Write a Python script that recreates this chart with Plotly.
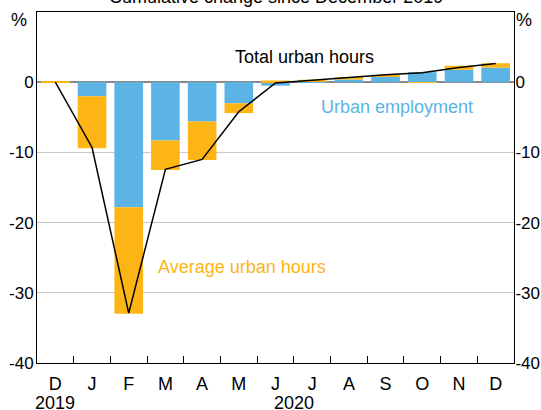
import plotly.graph_objects as go

months = ["D", "J", "F", "M", "A", "M", "J", "J", "A", "S", "O", "N", "D"]
years = ["2019", "2020"]
urban_employment = [0.0, -2.0, -17.8, -8.3, -5.6, -3.0, -0.5, 0.1, 0.38, 0.8, 1.43, 1.77, 2.07]
average_urban_hours = [0.1, -7.4, -15.2, -4.2, -5.5, -1.4, 0.25, 0.25, 0.34, 0.24, -0.1, 0.58, 0.63]
total_urban_hours = [0.0, -9.3, -32.9, -12.4, -11.0, -4.2, -0.1, 0.3, 0.65, 1.05, 1.35, 2.1, 2.65]

BLUE = "#5BB4E3"
ORANGE = "#FDB515"
FONT = "Arial, Liberation Sans, sans-serif"
FS = 18

x = list(range(len(months)))

fig = go.Figure()
fig.add_trace(go.Bar(x=x, y=urban_employment, marker=dict(color=BLUE, line=dict(width=0)),
                     width=0.78, name="Urban employment"))
fig.add_trace(go.Bar(x=x, y=average_urban_hours, marker=dict(color=ORANGE, line=dict(width=0)),
                     width=0.78, name="Average urban hours"))
fig.add_trace(go.Scatter(x=x, y=total_urban_hours, mode="lines",
                         line=dict(color="black", width=1.5), name="Total urban hours"))
fig.add_trace(go.Scatter(x=[0], y=[0], mode="markers", marker=dict(opacity=0),
                         yaxis="y2", hoverinfo="skip", showlegend=False))

yticks = [-40, -30, -20, -10, 0]
fig.update_layout(
    width=541, height=410,
    margin=dict(l=37, r=27, t=12, b=47, autoexpand=False),
    paper_bgcolor="white", plot_bgcolor="white",
    barmode="relative",
    showlegend=False,
    font=dict(family=FONT, size=FS, color="black"),
    xaxis=dict(
        range=[-0.5, 12.5], tickmode="array", tickvals=x, ticktext=months,
        ticks="", showgrid=False, zeroline=False, automargin=False,
        showline=True, linecolor="black", linewidth=1, mirror=True,
        ticklabelstandoff=4,
        minor=dict(tickmode="array", tickvals=[i + 0.5 for i in range(12)],
                   ticks="inside", ticklen=7, tickcolor="black", tickwidth=1, showgrid=False),
    ),
    yaxis=dict(
        range=[-40, 10], tickmode="array", tickvals=yticks, ticktext=[str(v) for v in yticks],
        ticks="", showgrid=True, gridcolor="#C8C8C8", gridwidth=1, automargin=False,
        zeroline=True, zerolinecolor="#8A8A8A", zerolinewidth=1.5,
        showline=True, linecolor="black", linewidth=1, ticklabelstandoff=-1,
        tickfont=dict(size=17),
    ),
    yaxis2=dict(
        range=[-40, 10], tickmode="array", tickvals=yticks, ticktext=[str(v) for v in yticks],
        overlaying="y", side="right", ticks="", showgrid=False, zeroline=False, automargin=False,
        showline=True, linecolor="black", linewidth=1, ticklabelstandoff=-3,
        tickfont=dict(size=17),
    ),
    annotations=[
        dict(text="Cumulative change since December 2019", xref="paper", yref="paper",
             x=0.5, y=1, xanchor="center", yanchor="bottom", yshift=3, showarrow=False,
             font=dict(size=FS)),
        dict(text="%", xref="paper", yref="paper", x=0, y=1, xanchor="center", yanchor="middle",
             xshift=-18, yshift=-8, showarrow=False),
        dict(text="%", xref="paper", yref="paper", x=1, y=1, xanchor="center", yanchor="middle",
             xshift=10, yshift=-8, showarrow=False),
        dict(text="Total urban hours", x=6.8, y=3.6, xref="x", yref="y", showarrow=False,
             font=dict(color="black")),
        dict(text="Urban employment", x=9.3, y=-3.5, xref="x", yref="y", showarrow=False,
             font=dict(color=BLUE)),
        dict(text="Average urban hours", x=5.1, y=-26.3, xref="x", yref="y", showarrow=False,
             font=dict(color=ORANGE)),
        dict(text=years[0], x=0, y=0, xref="x", yref="paper", yanchor="middle",
             yshift=-40, showarrow=False),
        dict(text=years[1], x=6.5, y=0, xref="x", yref="paper", yanchor="middle",
             yshift=-40, showarrow=False),
    ],
)

fig.write_html("out.html", config={"displayModeBar": False},
               post_script="document.body.style.margin='0';document.body.style.overflow='hidden';")
